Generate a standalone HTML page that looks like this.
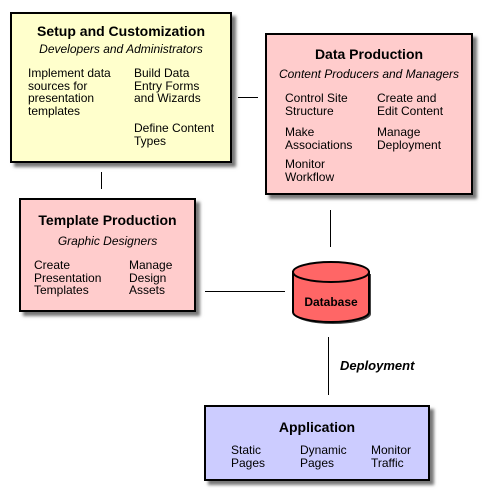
<!DOCTYPE html>
<html><head><style>
body{margin:0;width:492px;height:501px;background:#fff;position:relative;font-family:"Liberation Sans",Arial,sans-serif;overflow:hidden}
.b{position:absolute;border:2px solid #000;box-shadow:4px 4px 3px #777;box-sizing:border-box}
.t{position:absolute;font-size:12px;line-height:12.5px;color:#000}
.h{font-weight:bold;font-size:14px;text-align:center;position:absolute;left:0;right:0}
.s{font-style:italic;font-size:12px;text-align:center;position:absolute;left:0;right:0}
.l{position:absolute;background:#000}
</style></head><body>
<div class="b" style="left:10px;top:12px;width:222px;height:151px;background:#ffffcc">
 <div class="h" style="top:9px">Setup and Customization</div>
 <div class="s" style="top:28px">Developers and Administrators</div>
 <div class="t" style="left:16px;top:53px">Implement data<br>sources for<br>presentation<br>templates</div>
 <div class="t" style="left:122px;top:53px">Build Data<br>Entry Forms<br>and Wizards</div>
 <div class="t" style="left:122px;top:108px">Define Content<br>Types</div>
</div>
<div class="b" style="left:265px;top:33px;width:208px;height:162px;background:#ffcccc">
 <div class="h" style="top:11px">Data Production</div>
 <div class="s" style="top:32px">Content Producers and Managers</div>
 <div class="t" style="left:18px;top:57px">Control Site<br>Structure</div>
 <div class="t" style="left:110px;top:57px">Create and<br>Edit Content</div>
 <div class="t" style="left:18px;top:91px">Make<br>Associations</div>
 <div class="t" style="left:110px;top:91px">Manage<br>Deployment</div>
 <div class="t" style="left:18px;top:123px">Monitor<br>Workflow</div>
</div>
<div class="b" style="left:19px;top:198px;width:177px;height:114px;background:#ffcccc">
 <div class="h" style="top:12px">Template Production</div>
 <div class="s" style="top:34px">Graphic Designers</div>
 <div class="t" style="left:13px;top:59px">Create<br>Presentation<br>Templates</div>
 <div class="t" style="left:108px;top:59px">Manage<br>Design<br>Assets</div>
</div>
<div class="b" style="left:204px;top:405px;width:226px;height:76px;background:#ccccff">
 <div class="h" style="top:12px">Application</div>
 <div class="t" style="left:25px;top:37px">Static<br>Pages</div>
 <div class="t" style="left:94px;top:37px">Dynamic<br>Pages</div>
 <div class="t" style="left:165px;top:37px">Monitor<br>Traffic</div>
</div>
<div class="l" style="left:238px;top:97px;width:20px;height:1px"></div>
<div class="l" style="left:101px;top:172px;width:1px;height:17px"></div>
<div class="l" style="left:330px;top:210px;width:1px;height:37px"></div>
<div class="l" style="left:205px;top:291px;width:80px;height:1px"></div>
<div class="l" style="left:328px;top:337px;width:1px;height:58px"></div>
<div class="t" style="left:340px;top:360px;font-weight:bold;font-style:italic;font-size:13px">Deployment</div>
<svg style="position:absolute;left:288px;top:260px" width="90" height="70">
 <path d="M5 12 L5 52 A38 10 0 0 0 81 52 L81 12" fill="#444" transform="translate(2,2)"/>
 <path d="M5 12 L5 52 A38 10 0 0 0 81 52 L81 12 Z" fill="#ff6666" stroke="#000" stroke-width="2"/>
 <ellipse cx="43" cy="12" rx="38" ry="10" fill="#ff6666" stroke="#000" stroke-width="2"/>
 <text x="43" y="46" text-anchor="middle" font-family="Liberation Sans,sans-serif" font-weight="bold" font-size="12">Database</text>
</svg>
</body></html>
